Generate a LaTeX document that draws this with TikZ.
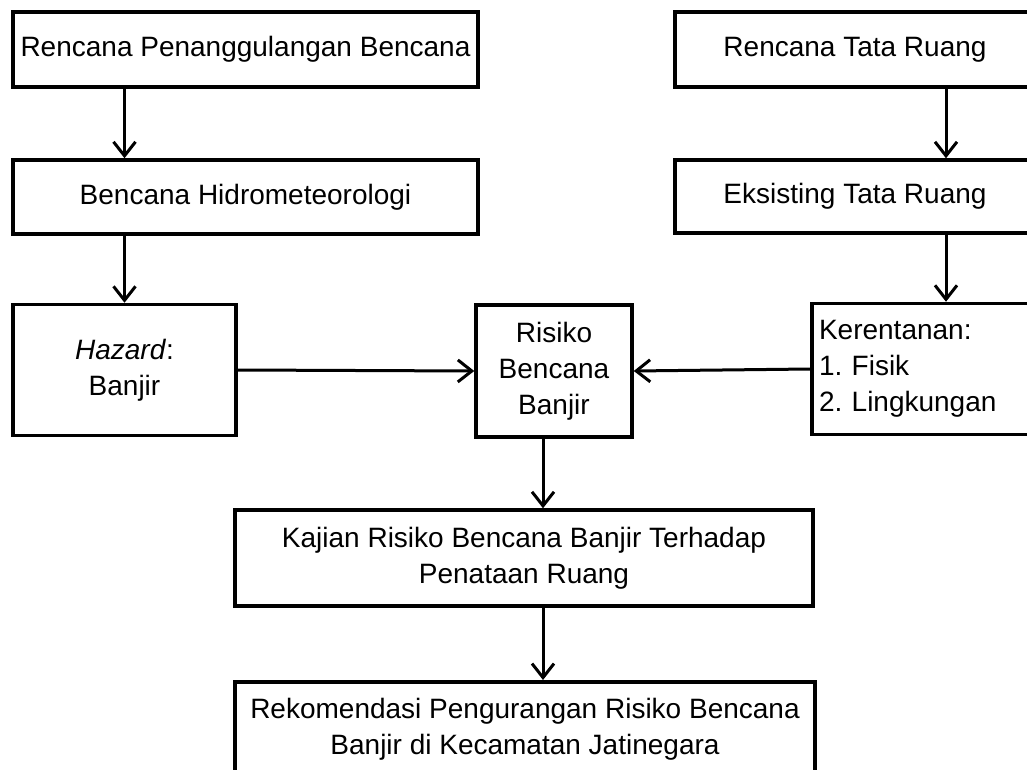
\documentclass[tikz,border=0pt]{standalone}
\usepackage{fontspec}
\setmainfont{Liberation Sans}
\usetikzlibrary{arrows.meta}

\begin{document}
\begin{tikzpicture}[x=1pt,y=-1pt,
  box/.style={draw,line width=3.5pt,inner sep=7pt,font=\fontsize{28}{36}\selectfont\frenchspacing,align=center},
  link/.style={line width=3pt,-{Straight Barb[length=14pt,width=22pt,line width=3pt]}}]
\useasboundingbox (0,0) rectangle (1027,770);
\clip (0,0) rectangle (1027,770);

% kolom kiri
\node[box,minimum width=465pt,minimum height=75pt] (rpb) at (245.5,49.5) {Rencana Penanggulangan Bencana};
\node[box,minimum width=465pt,minimum height=74pt] (hidro) at (245.5,197) {Bencana Hidrometeorologi};
\node[box,minimum width=223pt,minimum height=131pt] (haz) at (124.5,370) {\textit{Hazard}:\\Banjir};

% kolom kanan
\node[box,minimum width=360pt,minimum height=75pt] (rtr) at (855,49.5) {Rencana Tata Ruang};
\node[box,minimum width=360pt,minimum height=73pt] (eks) at (855,196.5) {Eksisting Tata Ruang};
\node[box,minimum width=268pt,minimum height=131pt,align=left,text width=254pt] (ker) at (946,369) {Kerentanan:\\1. Fisik\\2. Lingkungan};

% tengah
\node[box,minimum width=156pt,minimum height=132pt] (risiko) at (554,371) {Risiko\\Bencana\\Banjir};
\node[box,minimum width=578pt,minimum height=96pt] (kajian) at (524,558) {Kajian Risiko Bencana Banjir Terhadap\\Penataan Ruang};
\node[box,minimum width=580pt,minimum height=96pt,anchor=north] (rekom) at (525,680) {Rekomendasi Pengurangan Risiko Bencana\\Banjir di Kecamatan Jatinegara};
\coordinate (tengah) at (543,0);

\draw[link] (rpb.south -| haz.north) -- (hidro.north -| haz.north);
\draw[link] (hidro.south -| haz.north) -- (haz.north);
\draw[link] (rtr.south -| ker.north) -- (eks.north -| ker.north);
\draw[link] (eks.south -| ker.north) -- (ker.north);
\draw[link] (haz.east) -- (risiko.west);
\draw[link] (ker.west) -- (risiko.east);
\draw[link] (risiko.south -| tengah) -- (kajian.north -| tengah);
\draw[link] (kajian.south -| tengah) -- (rekom.north -| tengah);
\end{tikzpicture}
\end{document}
